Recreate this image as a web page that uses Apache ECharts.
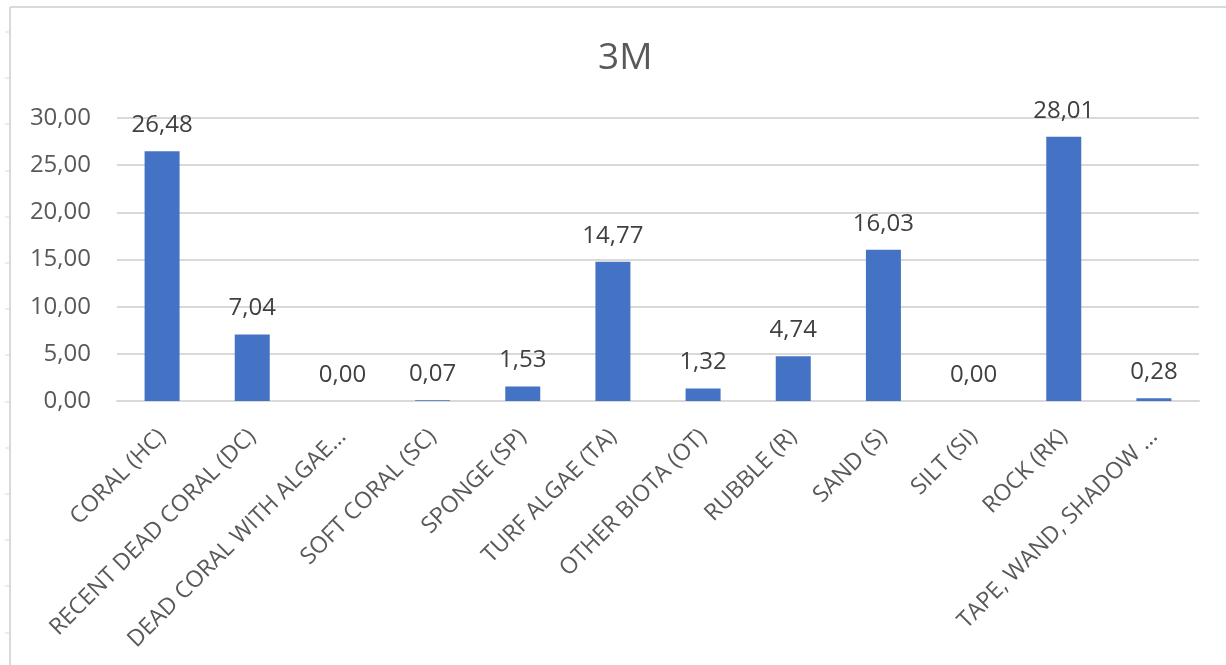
<!DOCTYPE html>
<html>
<head>
<meta charset="utf-8">
<script src="https://cdn.jsdelivr.net/npm/echarts@6/dist/echarts.min.js"></script>
<style>
  html, body { margin: 0; padding: 0; background: #ffffff; }
  #chart { width: 1226px; height: 665px; }
</style>
</head>
<body>
<div id="chart"></div>
<script>
// Benthic cover at 3 m depth (%)
const categories = [
  'CORAL (HC)',
  'RECENT DEAD CORAL (DC)',
  'DEAD CORAL WITH ALGAE...',
  'SOFT CORAL (SC)',
  'SPONGE (SP)',
  'TURF ALGAE (TA)',
  'OTHER BIOTA (OT)',
  'RUBBLE (R)',
  'SAND (S)',
  'SILT (SI)',
  'ROCK (RK)',
  'TAPE, WAND, SHADOW ...'
];
const coverValues = [26.48, 7.04, 0.00, 0.07, 1.53, 14.77, 1.32, 4.74, 16.03, 0.00, 28.01, 0.28];
const titleText = '3M';
const yMin = 0;
const yMax = 30;
const yStep = 5;

const FONT = '"Open Sans", "Liberation Sans", sans-serif';
const fmt = v => Number(v).toFixed(2).replace('.', ',');

const chart = echarts.init(document.getElementById('chart'), null, { renderer: 'canvas' });

// sheet frame drawn around the chart (top and left border with small row ticks)
const frame = [
  { type: 'line', shape: { x1: 10, y1: 7, x2: 1226, y2: 7 }, style: { stroke: '#d9d9d9', lineWidth: 2 } },
  { type: 'line', shape: { x1: 10, y1: 7, x2: 10, y2: 665 }, style: { stroke: '#d9d9d9', lineWidth: 2 } }
];
for (let y = 32; y < 665; y += 46.2) {
  frame.push({ type: 'line', shape: { x1: 5, y1: Math.round(y), x2: 10, y2: Math.round(y) }, style: { stroke: '#d9d9d9', lineWidth: 1 } });
}

chart.setOption({
  backgroundColor: '#ffffff',
  animation: false,
  title: {
    text: titleText,
    left: 593,
    top: 35,
    textStyle: { fontFamily: FONT, fontSize: 37, fontWeight: 'normal', color: '#595959' }
  },
  graphic: frame,
  grid: { left: 117, right: 27, top: 118, bottom: 264, containLabel: false },
  xAxis: {
    type: 'category',
    data: categories,
    axisLine: { show: true, lineStyle: { color: '#d9d9d9', width: 2 } },
    axisTick: { show: false },
    axisLabel: {
      interval: 0,
      rotate: 45,
      margin: 32,
      fontFamily: FONT,
      fontSize: 23,
      color: '#595959'
    }
  },
  yAxis: {
    type: 'value',
    min: yMin,
    max: yMax,
    interval: yStep,
    axisLine: { show: false },
    axisTick: { show: false },
    splitLine: { lineStyle: { color: '#d9d9d9', width: 2 } },
    axisLabel: {
      margin: 26,
      fontFamily: FONT,
      fontSize: 24,
      color: '#595959',
      formatter: fmt
    }
  },
  series: [{
    type: 'bar',
    data: coverValues,
    barWidth: 35,
    itemStyle: { color: '#4472C4' },
    label: {
      show: true,
      position: 'top',
      distance: 14,
      fontFamily: FONT,
      fontSize: 24,
      color: '#404040',
      formatter: p => fmt(p.value)
    }
  }]
});
</script>
</body>
</html>
